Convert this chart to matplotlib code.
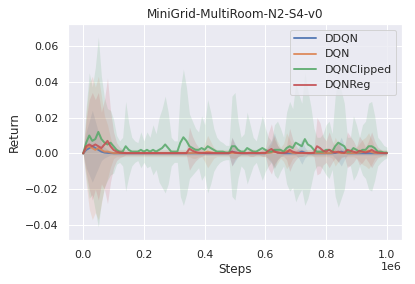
import numpy as np
import matplotlib
matplotlib.use("Agg")
import matplotlib.pyplot as plt
import seaborn as sns

sns.set_theme()

steps = np.arange(101) * 10000

# 平均リターン (単位 1e-3)
ddqn_mean = [0, 2, 3, 4, 3, 2, 1, 0.5, 0.3, 0.2, 0.1, 0.1, 0.1, 0.1, 0.1, 0.1, 0.1, 0.1, 0.1, 0.1,
             0.1, 0.1, 0.1, 0.1, 0.1, 0.1, 0.1, 0.1, 0.1, 0.1, 0.1, 0.1, 0.1, 0.1, 0.1, 0.1, 0.1, 0.1, 0.1, 0.1,
             0.1, 0.1, 0.1, 0.1, 0.1, 0.1, 0.1, 0.1, 0.1, 1, 0.5, 0.2, 0.1, 0.1, 0.1, 0.1, 0.1, 0.1, 0.1, 0.1,
             0.1, 0.5, 0.8, 1.5, 0.5, 0.2, 0.1, 0.1, 0.1, 0.1, 0.1, 0.3, 1, 0.4, 0.1, 0.1, 0.1, 0.1, 0.1, 0.1,
             0.1, 0.1, 0.1, 0.3, 0.5, 1, 0.4, 0.1, 0.1, 0.1, 0.1, 0.1, 0.1, 0.1, 0.1, 0.1, 0.1, 0.1, 0.1, 0.1,
             0.1]
ddqn_std = [0, 10, 15, 20, 15, 10, 5, 3, 2, 1, 1, 1, 1, 1, 1, 1, 1, 1, 1, 1,
            1, 1, 1, 1, 1, 1, 1, 1, 1, 1, 1, 1, 1, 1, 1, 1, 1, 1, 1, 1,
            1, 1, 1, 1, 1, 1, 1, 1, 1, 8, 5, 2, 1, 1, 1, 1, 1, 1, 1, 1,
            1, 4, 6, 10, 4, 2, 1, 1, 1, 1, 1, 3, 7, 3, 1, 1, 1, 1, 1, 1,
            1, 1, 1, 3, 5, 8, 4, 1, 1, 1, 1, 1, 1, 1, 1, 1, 1, 1, 1, 1,
            1]

dqn_mean = [0, 3, 4, 3, 2, 3, 2, 1, 1, 0.5, 0.2, 0.2, 0.2, 0.2, 0.2, 0.2, 0.2, 0.2, 0.2, 0.2,
            0.2, 0.2, 0.2, 0.2, 0.2, 0.2, 0.2, 0.2, 0.2, 0.2, 0.2, 0.2, 0.2, 0.2, 0.2, 0.2, 0.3, 0.3, 0.2, 0.2,
            0.5, 1, 0.6, 0.3, 0.2, 0.2, 0.2, 0.2, 0.2, 0.3, 0.3, 0.2, 0.2, 0.2, 0.2, 0.2, 0.2, 0.2, 0.2, 0.2,
            0.2, 0.3, 0.5, 1, 0.6, 0.3, 0.5, 1.5, 0.8, 0.3, 0.2, 0.2, 0.2, 0.2, 0.2, 0.2, 0.2, 0.2, 0.2, 0.2,
            0.2, 0.2, 0.3, 1, 0.5, 0.2, 0.2, 0.2, 0.2, 0.2, 0.3, 0.5, 0.8, 1, 1.5, 0.8, 0.3, 0.2, 0.2, 0.2,
            0.2]
dqn_std = [0, 20, 35, 40, 35, 40, 30, 20, 15, 8, 3, 2, 2, 2, 2, 2, 2, 2, 2, 2,
           2, 2, 2, 2, 2, 2, 2, 2, 2, 2, 2, 2, 2, 2, 2, 2, 3, 3, 2, 2,
           5, 9, 6, 3, 2, 2, 2, 2, 2, 3, 3, 2, 2, 2, 2, 2, 2, 2, 2, 2,
           2, 3, 5, 9, 6, 3, 5, 10, 7, 3, 2, 2, 2, 2, 2, 2, 2, 2, 2, 2,
           2, 2, 3, 8, 5, 2, 2, 2, 2, 2, 3, 5, 7, 8, 10, 7, 3, 2, 2, 2,
           2]

clipped_mean = [0, 6, 10, 7, 8, 12, 8, 6, 5, 6, 4, 2, 1, 1, 4, 2, 1, 1, 1, 2,
                1, 2, 1, 2, 1, 2, 3, 5, 3, 1, 1, 1, 6, 9, 7, 4, 3, 2, 2, 3,
                2, 4, 3, 2, 1, 1, 1, 0.5, 0.5, 4, 4, 2, 1, 1, 3, 2, 1, 1, 2, 3,
                2, 1, 1, 2, 2, 2, 1, 3, 4, 3, 6, 5, 4, 8, 5, 4, 2, 1, 1, 1,
                2, 2, 1, 4, 6, 5, 4, 1, 1, 3, 2, 1, 2, 2, 4, 4, 3, 1, 1, 0.5,
                0.5]
clipped_std = [0, 20, 35, 30, 40, 53, 35, 25, 20, 18, 15, 8, 6, 8, 25, 15, 8, 6, 5, 10,
               6, 10, 8, 14, 10, 18, 22, 27, 20, 8, 6, 6, 30, 38, 30, 18, 15, 12, 10, 18,
               14, 26, 20, 12, 8, 6, 5, 4, 4, 28, 30, 16, 8, 10, 20, 14, 8, 6, 12, 18,
               12, 8, 6, 14, 16, 12, 8, 20, 25, 22, 33, 28, 24, 37, 30, 22, 12, 8, 8, 10,
               14, 16, 10, 28, 36, 30, 24, 8, 8, 18, 14, 8, 14, 16, 24, 25, 18, 8, 6, 4,
               3]

reg_mean = [0, 4, 5, 4, 5, 4, 3, 5, 7, 4, 2, 1, 0.5, 0.3, 0.2, 0.2, 0.2, 0.2, 0.2, 0.2,
            0.2, 0.2, 0.2, 0.2, 0.2, 0.2, 0.2, 0.2, 0.2, 0.2, 0.2, 0.2, 0.2, 0.2, 0.2, 2.6, 1.5, 0.8, 0.4, 0.3,
            0.2, 0.2, 0.2, 0.2, 0.2, 0.2, 0.2, 0.2, 0.2, 1, 0.5, 0.3, 0.2, 0.2, 0.2, 0.3, 0.3, 0.2, 0.2, 0.3,
            0.3, 1.5, 2.5, 1, 0.5, 0.3, 0.3, 0.5, 2, 1, 0.5, 0.3, 0.3, 0.2, 0.2, 0.2, 0.3, 4, 3, 1.5,
            1, 2, 1, 0.5, 1, 0.5, 0.3, 2, 1.5, 1, 0.5, 1.5, 1, 0.5, 1, 2, 1, 0.5, 0.3, 0.2,
            0.2]
reg_std = [0, 15, 25, 30, 25, 30, 20, 25, 35, 20, 10, 5, 3, 2, 1, 1, 1, 1, 1, 1,
           1, 1, 1, 1, 1, 1, 1, 1, 1, 1, 1, 1, 1, 1, 1, 12, 8, 5, 3, 2,
           1, 1, 1, 1, 1, 1, 1, 1, 1, 8, 4, 2, 1, 1, 1, 2, 2, 1, 1, 2,
           2, 10, 14, 7, 4, 2, 2, 4, 12, 7, 4, 2, 2, 1, 1, 1, 2, 16, 14, 8,
           6, 10, 6, 3, 6, 3, 2, 10, 8, 6, 3, 8, 6, 3, 6, 10, 6, 3, 2, 1,
           1]

series = [
    ("DDQN", ddqn_mean, ddqn_std),
    ("DQN", dqn_mean, dqn_std),
    ("DQNClipped", clipped_mean, clipped_std),
    ("DQNReg", reg_mean, reg_std),
]

fig = plt.figure(figsize=(415 / 72, 284 / 72), dpi=72)
ax = fig.add_axes([68 / 415, 44 / 284, 334 / 415, 216 / 284])

for name, mean, std in series:
    m = np.array(mean) * 1e-3
    s = np.array(std) * 1e-3
    line, = ax.plot(steps, m, label=name, linewidth=2, alpha=0.85)
    ax.fill_between(steps, m - s, m + s, color=line.get_color(), alpha=0.15, linewidth=0)

ax.set_ylim(-0.0483, 0.0722)
ax.set_title("MiniGrid-MultiRoom-N2-S4-v0")
ax.set_xlabel("Steps")
ax.set_ylabel("Return")
ax.legend(loc="upper right")

fig.savefig("out.png", dpi=72)
